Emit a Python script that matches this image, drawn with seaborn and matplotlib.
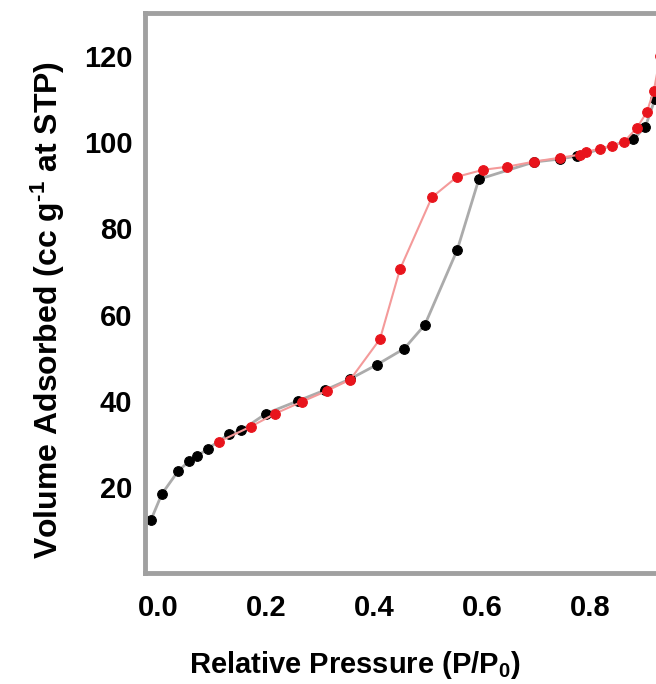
import matplotlib
matplotlib.use('Agg')
import matplotlib.pyplot as plt
import seaborn as sns
from matplotlib.ticker import MultipleLocator, FormatStrFormatter

# adsorption branch (black)
ads_p = [-0.013, 0.007, 0.037, 0.057, 0.072, 0.093, 0.131, 0.154, 0.20, 0.26, 0.31, 0.355,
         0.406, 0.456, 0.494, 0.554, 0.594, 0.696, 0.744, 0.776, 0.880, 0.902, 0.92, 0.94]
ads_v = [12.3, 18.3, 23.6, 25.9, 27.1, 28.9, 32.2, 33.1, 37.0, 40.0, 42.5, 45.0,
         48.4, 52.1, 57.6, 75.0, 91.4, 95.4, 96.1, 96.8, 100.7, 103.5, 110.0, 125.0]

# desorption branch (red)
des_p = [0.94, 0.93, 0.918, 0.905, 0.887, 0.863, 0.841, 0.819, 0.793, 0.781, 0.744, 0.696,
         0.646, 0.602, 0.554, 0.507, 0.448, 0.411, 0.356, 0.313, 0.267, 0.217, 0.172, 0.113]
des_v = [128.0, 120.0, 112.0, 107.0, 103.4, 100.1, 99.2, 98.5, 97.8, 97.1, 96.4, 95.5,
         94.3, 93.6, 92.0, 87.2, 70.5, 54.3, 44.9, 42.3, 39.8, 37.0, 34.0, 30.5]

y_ticks = [20, 40, 60, 80, 100, 120]

sns.set_style('white')
plt.rcParams['font.family'] = ['Liberation Sans', 'DejaVu Sans']
plt.rcParams['mathtext.fontset'] = 'custom'
plt.rcParams['mathtext.bf'] = 'Liberation Sans:bold'
plt.rcParams['mathtext.rm'] = 'Liberation Sans:bold'
plt.rcParams['mathtext.default'] = 'bf'
plt.rcParams['text.color'] = 'black'
plt.rcParams['axes.labelcolor'] = 'black'
plt.rcParams['xtick.labelcolor'] = 'black'
plt.rcParams['ytick.labelcolor'] = 'black'

fig = plt.figure(figsize=(6.56, 6.84), dpi=100)
ax = fig.add_axes([145 / 656, 111 / 684, 1 - 145 / 656, 560 / 684])

sns.lineplot(x=ads_p, y=ads_v, sort=False, ax=ax, color='#ababab', linewidth=2,
             marker='o', markersize=7, markerfacecolor='black', markeredgecolor='black', zorder=2)
sns.lineplot(x=des_p, y=des_v, sort=False, ax=ax, color='#f49a9a', linewidth=1.5,
             marker='o', markersize=7, markerfacecolor='#e8141c', markeredgecolor='#e8141c', zorder=3)

ax.set_xlim(-0.024, 0.922)
ax.set_ylim(0, 130)
ax.xaxis.set_major_locator(MultipleLocator(0.2))
ax.xaxis.set_minor_locator(MultipleLocator(0.1))
ax.xaxis.set_major_formatter(FormatStrFormatter('%.1f'))
ax.set_yticks(y_ticks)
ax.yaxis.set_minor_locator(MultipleLocator(10))

ax.tick_params(which='both', direction='in', length=3, width=1.5, color='#999999',
               labelsize=21)
ax.tick_params(axis='y', pad=9)
ax.tick_params(axis='x', pad=15)
for lab in ax.get_xticklabels() + ax.get_yticklabels():
    lab.set_fontweight('bold')

for side in ['left', 'bottom', 'top']:
    ax.spines[side].set_color('#a0a0a0')
    ax.spines[side].set_linewidth(3.5)
ax.spines['right'].set_visible(False)

ax.set_xlabel('Relative Pressure (P/P$_{0}$)', fontsize=21, fontweight='bold')
ax.set_ylabel('Volume Adsorbed (cc g$^{\\text{-1}}$ at STP)', fontsize=23, fontweight='bold')
ax.xaxis.set_label_coords(0.41, -0.135)
ax.yaxis.set_label_coords(-0.152, 0.47)

plt.savefig('out.png', dpi=100)
